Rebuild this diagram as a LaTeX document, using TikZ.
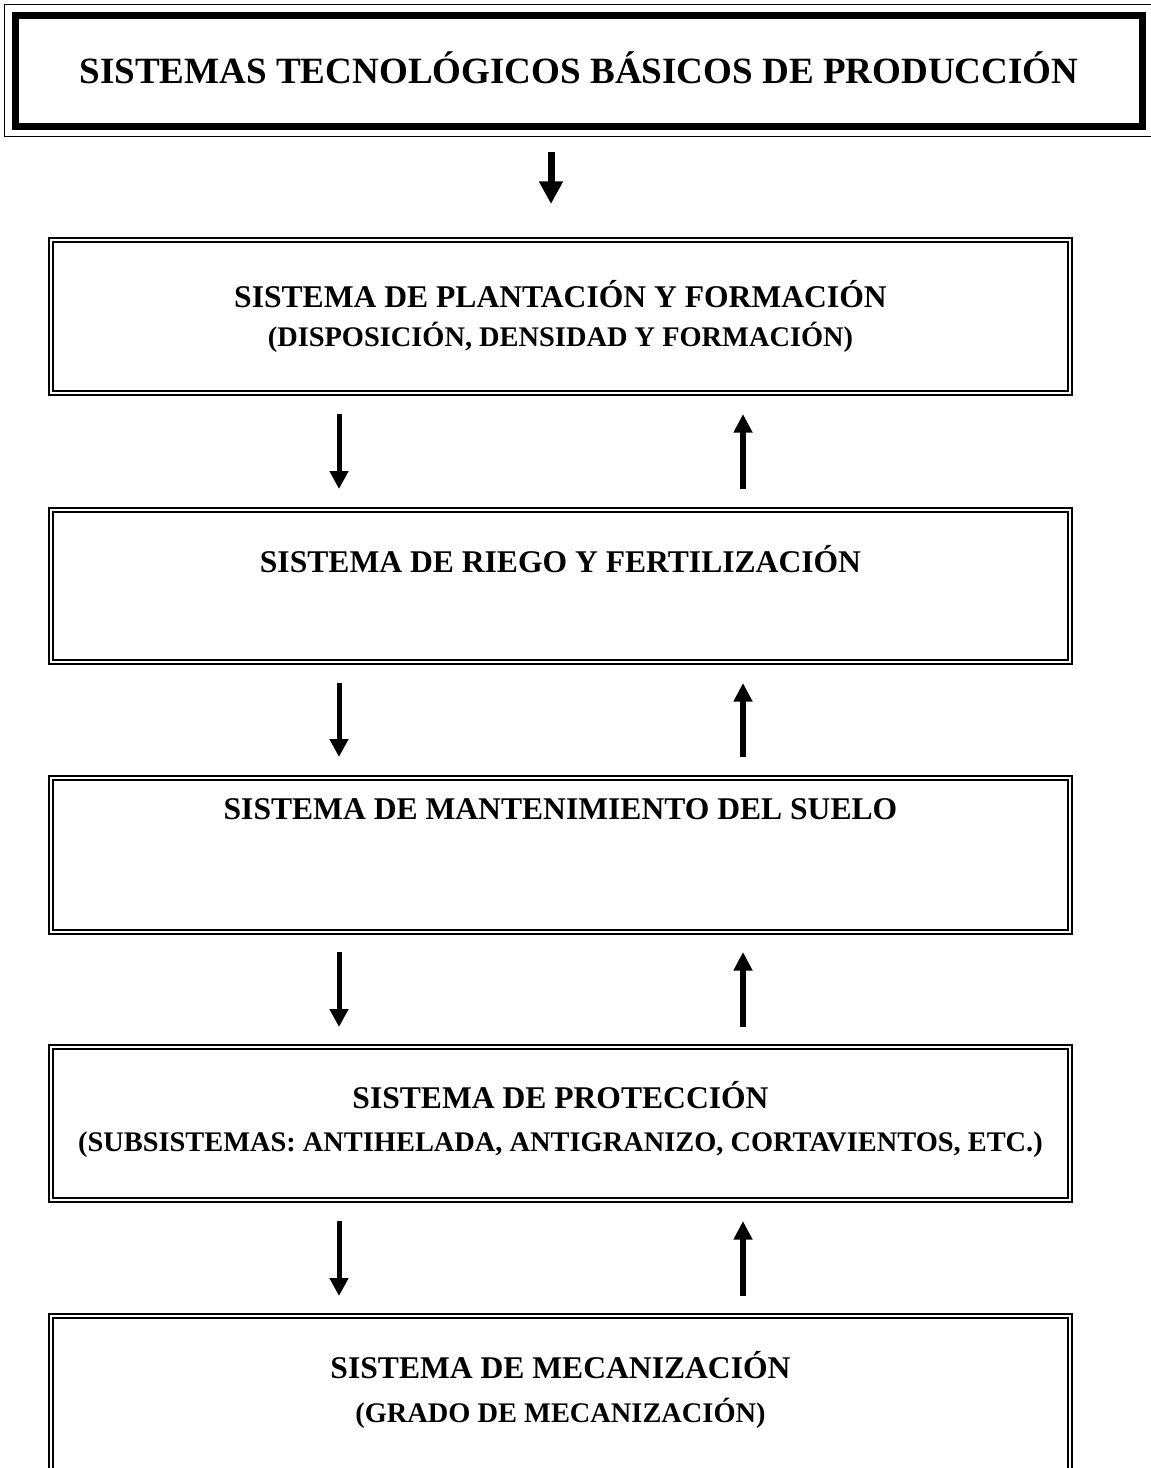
\documentclass[tikz,border=0pt]{standalone}
\usepackage{fontspec}
\setmainfont{Liberation Serif}
\usetikzlibrary{arrows.meta,calc}

\tikzset{
  sistema/.style={draw, double, line width=1.5pt, double distance=1.5pt, inner sep=0pt,
    minimum width=764.25pt, minimum height=114.75pt},
  rotulo/.style={anchor=base, inner sep=0pt, font=\bfseries\fontsize{23.7}{28}\selectfont},
  subrotulo/.style={anchor=base, inner sep=0pt, font=\bfseries\fontsize{21.3}{25}\selectfont},
  bajada/.style={line width=3.75pt, -{Triangle[width=13.5pt,length=13.5pt]}},
  subida/.style={line width=5pt, -{Triangle[width=13.5pt,length=14pt]}},
}

\begin{document}
\begin{tikzpicture}[x=0.75pt,y=0.75pt,yscale=-1,xscale=1]
    \useasboundingbox (0,0) rectangle (1151,1468);
    \clip (0,0) rectangle (1151,1468);

    %Shape: Rectangle [title]
    \node [draw, line width=5.25pt, inner sep=0pt, minimum width=845.6pt, minimum height=82.9pt] (titulo) at (579.25,70.75) {};
    \draw [line width=1.2pt] ($(titulo.north west)+(-7.5,-7.5)$) rectangle ($(titulo.south east)+(6,7)$);

    %Shape: Rectangle [systems]
    \node [sistema] (plant) at (560.5,316.5) {};
    \node [sistema, minimum height=114pt] (riego) at (560.5,586) {};
    \node [sistema, minimum height=115.5pt] (suelo) at (560.5,855) {};
    \node [sistema] (prot) at (560.5,1123.5) {};
    \node [sistema, minimum height=127.5pt] (mec) at (560.5,1401) {};

    % Text Node
    \node [rotulo, font=\bfseries\fontsize{27.8}{32}\selectfont] (t0) at (579,83) {SISTEMAS TECNOLÓGICOS BÁSICOS DE PRODUCCIÓN};
    % Text Node
    \node [rotulo] (t1) at (560.5,307) {SISTEMA DE PLANTACIÓN Y FORMACIÓN};
    \node [subrotulo] (t1b) at (560.5,346) {(DISPOSICIÓN, DENSIDAD Y FORMACIÓN)};
    % Text Node
    \node [rotulo] (t2) at (560.5,572) {SISTEMA DE RIEGO Y FERTILIZACIÓN};
    % Text Node
    \node [rotulo] (t3) at (560.5,819) {SISTEMA DE MANTENIMIENTO DEL SUELO};
    % Text Node
    \node [rotulo] (t4) at (560.5,1108) {SISTEMA DE PROTECCIÓN};
    \node [subrotulo] (t4b) at (560.5,1151) {(SUBSISTEMAS: ANTIHELADA, ANTIGRANIZO, CORTAVIENTOS, ETC.)};
    % Text Node
    \node [rotulo] (t5) at (560.5,1378) {SISTEMA DE MECANIZACIÓN};
    \node [subrotulo] (t5b) at (560.5,1422) {(GRADO DE MECANIZACIÓN)};

    %Straight Lines [arrows]
    \draw [line width=5.25pt, -{Triangle[width=17pt,length=17pt]}] ($(titulo.south)+(-28.25,22)$) -- ($(plant.north)+(-9.5,-35)$);
    \draw [bajada] ($(plant.south)+(-221.5,20)$) -- ($(riego.north)+(-221.5,-20)$);
    \draw [subida] ($(riego.north)+(182.5,-20)$) -- ($(plant.south)+(182.5,20)$);
    \draw [bajada] ($(riego.south)+(-221.5,20)$) -- ($(suelo.north)+(-221.5,-20)$);
    \draw [subida] ($(suelo.north)+(182.5,-20)$) -- ($(riego.south)+(182.5,20)$);
    \draw [bajada] ($(suelo.south)+(-221.5,19)$) -- ($(prot.north)+(-221.5,-19)$);
    \draw [subida] ($(prot.north)+(182.5,-19)$) -- ($(suelo.south)+(182.5,19)$);
    \draw [bajada] ($(prot.south)+(-221.5,20)$) -- ($(mec.north)+(-221.5,-19)$);
    \draw [subida] ($(mec.north)+(182.5,-19)$) -- ($(prot.south)+(182.5,20)$);

\end{tikzpicture}
\end{document}
